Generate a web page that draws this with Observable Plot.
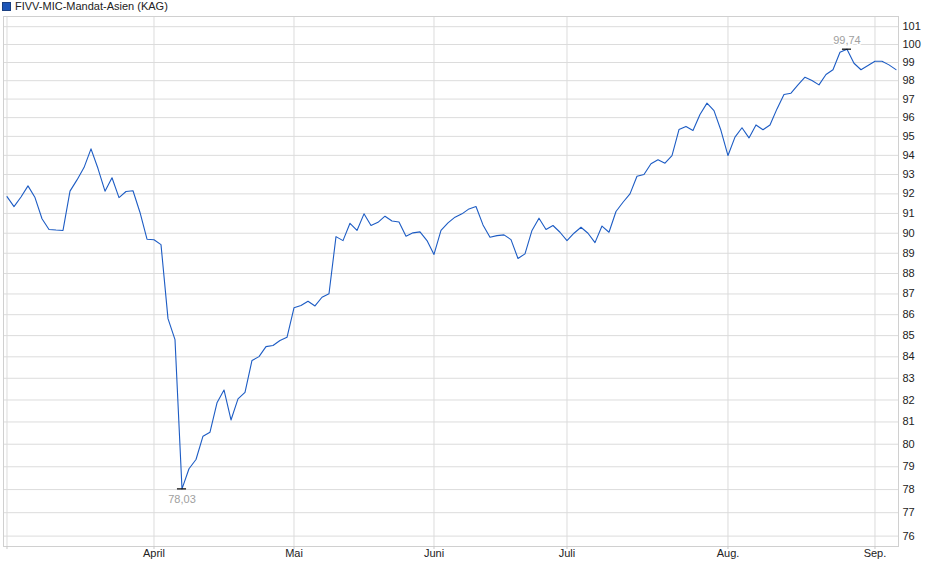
<!DOCTYPE html>
<html>
<head>
<meta charset="utf-8">
<script src="https://cdn.jsdelivr.net/npm/d3@7"></script>
<script src="https://cdn.jsdelivr.net/npm/@observablehq/plot@0.6"></script>
<style>
  html, body { margin: 0; padding: 0; background: #fff; }
  body { width: 940px; height: 579px; overflow: hidden; font-family: "Liberation Sans", Arial, sans-serif; }
  #legend { height: 15px; position: relative; font-size: 11px; color: #222; }
  #legend .sq { position: absolute; left: 2px; top: 2px; width: 7px; height: 7px; background: #1d56b8; border: 1px solid #1a3f80; }
  #legend .lbl { position: absolute; left: 15px; top: 0px; line-height: 12px; }
  svg { display: block; }
</style>
</head>
<body>
<div id="legend"><span class="sq"></span><span class="lbl">FIVV-MIC-Mandat-Asien (KAG)</span></div>
<div id="chart"></div>
<script>
// Fund price per trading day (index 0 = early March, last = early September)
const values = [
  91.86, 91.35, 91.84, 92.41, 91.81, 90.73, 90.19, 90.16, 90.14, 92.14,
  92.72, 93.36, 94.34, 93.31, 92.14, 92.83, 91.81, 92.12, 92.16, 91.05,
  89.70, 89.67, 89.43, 85.81, 84.81, 78.03, 78.91, 79.32, 80.36, 80.54,
  81.87, 82.46, 81.09, 82.05, 82.35, 83.83, 84.01, 84.48, 84.53, 84.77,
  84.92, 86.33, 86.44, 86.65, 86.42, 86.84, 87.01, 89.83, 89.63, 90.50,
  90.14, 90.98, 90.39, 90.55, 90.86, 90.62, 90.57, 89.85, 90.02, 90.07,
  89.63, 88.94, 90.14, 90.52, 90.81, 90.98, 91.23, 91.35, 90.42, 89.80,
  89.88, 89.92, 89.68, 88.74, 88.97, 90.14, 90.76, 90.19, 90.39, 90.05,
  89.63, 90.00, 90.30, 90.00, 89.53, 90.36, 90.05, 91.10, 91.57, 92.00,
  92.91, 93.00, 93.56, 93.77, 93.59, 93.99, 95.36, 95.53, 95.31, 96.17,
  96.78, 96.38, 95.31, 93.99, 94.96, 95.46, 94.92, 95.61, 95.35, 95.61,
  96.47, 97.25, 97.32, 97.77, 98.19, 98.01, 97.77, 98.34, 98.60, 99.57,
  99.74, 98.96, 98.60, 98.83, 99.07, 99.07, 98.87, 98.61
];
// Month label positions (trading-day index of first day of month)
const monthStarts = [0, 21, 41, 61, 80, 103, 124];
const monthLabels = ["", "April", "Mai", "Juni", "Juli", "Aug.", "Sep."];
// Y tick labels
const yTicks = d3.range(76, 102);

const data = values.map((v, i) => ({i, v}));
const minPt = data.reduce((a, b) => (b.v < a.v ? b : a));
const maxPt = data.reduce((a, b) => (b.v > a.v ? b : a));
const fmt = v => v.toFixed(2).replace(".", ",");

const chart = Plot.plot({
  width: 940,
  height: 564,
  marginTop: 1,
  marginBottom: 33,
  marginLeft: 3,
  marginRight: 42,
  style: { fontFamily: "'Liberation Sans', Arial, sans-serif", fontSize: "11px", color: "#222", background: "#fff" },
  x: { domain: [-0.5, 127.36], axis: null, label: null },
  y: { type: "log", domain: [75.56, 101.576], axis: null, label: null },
  marks: [
    Plot.ruleY(yTicks, { stroke: "#dcdcdc", strokeWidth: 1 }),
    Plot.ruleX(monthStarts, { stroke: "#dcdcdc", strokeWidth: 1 }),
    Plot.frame({ stroke: "#d0d0d0" }),
    Plot.axisX(monthStarts, {
      anchor: "bottom",
      label: null,
      tickSize: 3,
      tickPadding: 0,
      stroke: "#c8c8c8",
      tickFormat: (d, k) => monthLabels[k],
      fill: "#222",
      fontSize: 11
    }),
    Plot.axisY(yTicks, {
      anchor: "right",
      label: null,
      tickSize: 0,
      tickPadding: 4,
      tickFormat: d => String(d),
      fill: "#222",
      fontSize: 11,
      textAnchor: "start"
    }),
    Plot.line(data, { x: "i", y: "v", stroke: "#1d5cc4", strokeWidth: 1.1 }),
    Plot.ruleY([minPt, maxPt], { x1: d => d.i - 0.65, x2: d => d.i + 0.65, y: "v", stroke: "#000", strokeWidth: 1.2 }),
    Plot.text([minPt], { x: "i", y: "v", text: d => fmt(d.v), dy: 11, fill: "#a0a0a0", fontSize: 11 }),
    Plot.text([maxPt], { x: "i", y: "v", text: d => fmt(d.v), dy: -9, fill: "#a0a0a0", fontSize: 11, stroke: "#fff", strokeWidth: 3 })
  ]
});
document.getElementById("chart").appendChild(chart);
</script>
</body>
</html>
